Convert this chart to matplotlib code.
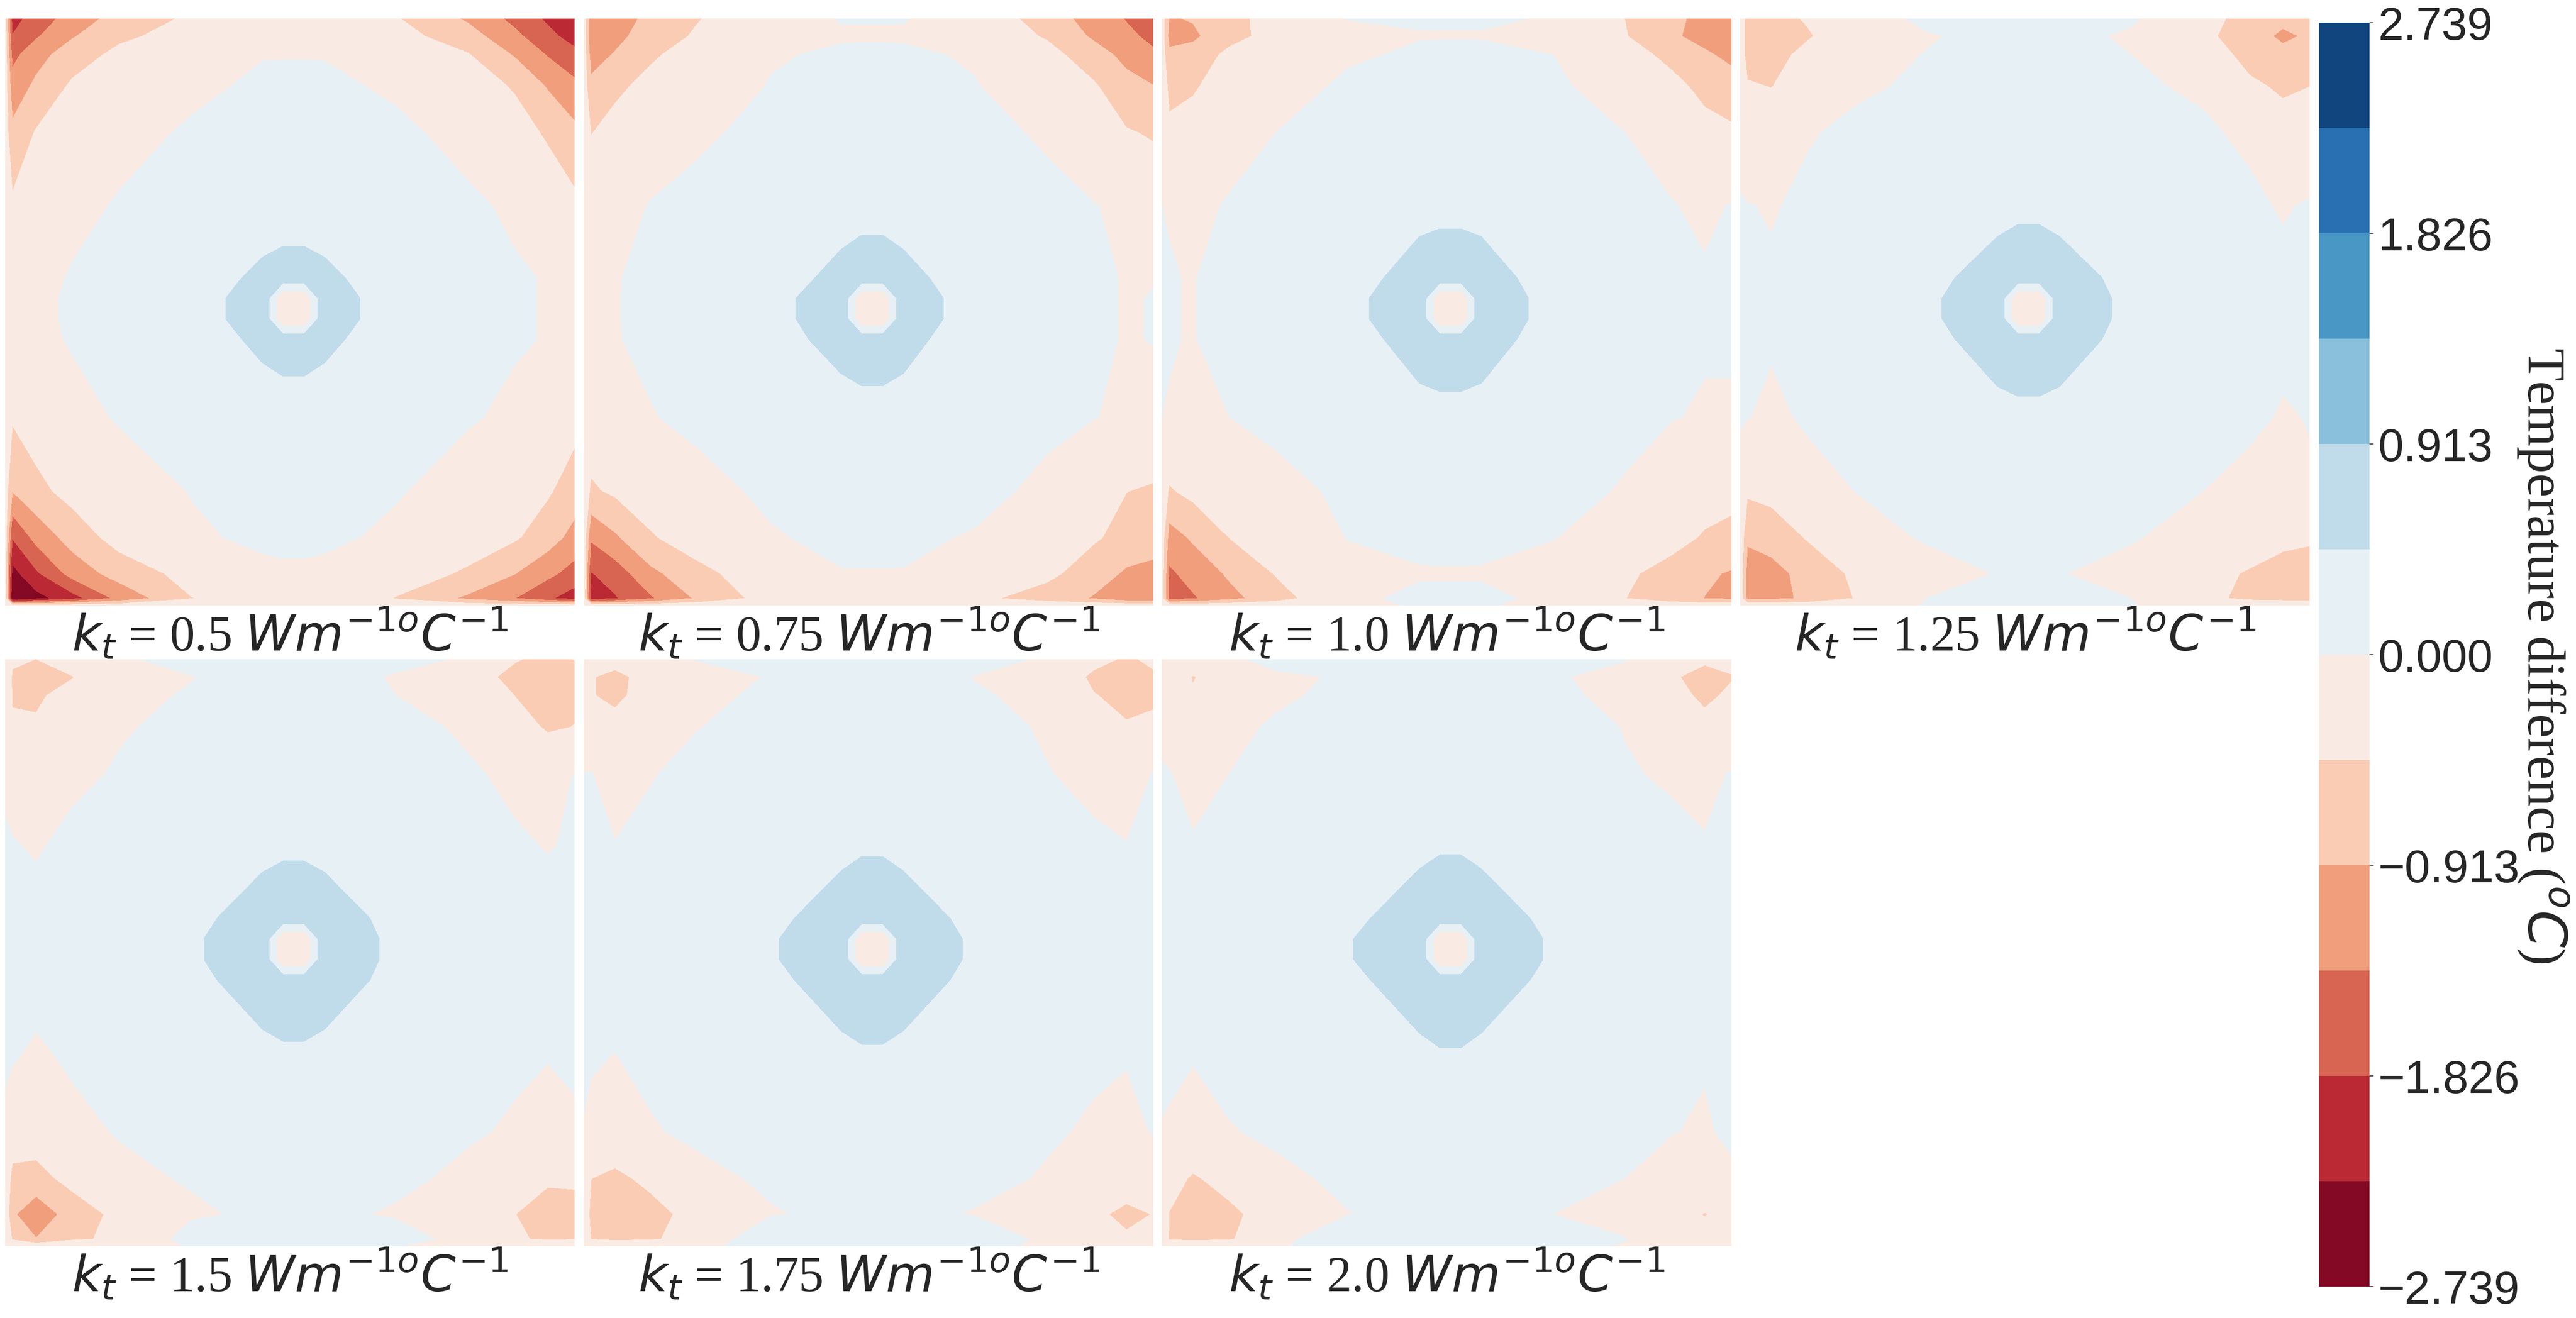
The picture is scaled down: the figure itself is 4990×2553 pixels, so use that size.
import matplotlib
matplotlib.use("Agg")
import matplotlib.pyplot as plt
import numpy as np

W, H = 4990, 2553

plt.rcParams["font.family"] = ["Liberation Serif", "DejaVu Sans"]
plt.rcParams["mathtext.fontset"] = "dejavusans"

INK = "#262626"

# node positions inside a panel (left to right, top to bottom)
x_nodes = [0, 14, 60, 130, 220, 360, 498, 538, 578, 618, 756, 896, 986, 1050, 1102]
y_nodes = [0, 34, 70, 131, 221, 361, 501, 541, 581, 621, 771, 914, 1004, 1074, 1122, 1136]

# temperature difference, in 1/100 of a degree
kt_050 = [
    [-30, -198, -164, -116, -75, -38, -22, -20, -20, -22, -42, -98, -150, -190, -220],
    [-20, -181, -142, -95, -55, -26, -13, -10, -10, -13, -28, -72, -125, -170, -200],
    [-20, -150, -108, -68, -34, -13, -1, -1, -1, -1, -12, -43, -95, -140, -170],
    [-20, -118, -82, -38, -20, -5, 4, 5, 5, 4, -3, -22, -50, -95, -125],
    [-20, -80, -42, -22, -8, 3, 6, 8, 8, 6, 4, -6, -25, -52, -80],
    [-20, -38, -20, -7, 2, 5, 4, 3, 3, 4, 5, 3, -3, -15, -35],
    [-20, -20, -8, 2, 4, 5, 62, 78, 78, 62, 5, 4, 2, -1, -17],
    [-20, -17, -5, 3, 4, 4, 90, -44, -44, 88, 3, 3, 2, -1, -15],
    [-20, -17, -5, 3, 4, 4, 90, -44, -44, 88, 3, 3, 2, -1, -15],
    [-20, -20, -6, 2, 4, 5, 62, 78, 78, 62, 5, 4, 2, -1, -17],
    [-20, -40, -22, -8, 2, 5, 8, 10, 10, 8, 6, 2, -4, -10, -30],
    [-20, -90, -58, -30, -13, 1, 7, 9, 9, 7, 2, -10, -30, -40, -68],
    [-20, -180, -122, -72, -28, -4, 5, 7, 7, 5, -5, -30, -40, -70, -107],
    [-20, -245, -190, -120, -72, -30, -6, -5, -5, -6, -30, -50, -90, -125, -155],
    [-20, -270, -245, -200, -125, -47, -20, -18, -18, -20, -47, -100, -136, -175, -205],
    [-20, -20, -20, -20, -20, -20, -20, -15, -15, -20, -20, -20, -20, -20, -20],
]
kt_075 = [
    [-20, -130, -115, -78, -48, -10, 1, 1, 1, 1, -10, -68, -110, -140, -162],
    [-20, -130, -105, -68, -40, -13, -2, -2, -2, -2, -12, -50, -98, -125, -150],
    [-20, -110, -88, -52, -25, -2, 3, 4, 4, 3, -2, -30, -70, -105, -128],
    [-20, -80, -55, -32, -13, 1, 5, 6, 6, 5, 1, -12, -40, -75, -90],
    [-20, -47, -30, -12, -3, 5, 10, 12, 12, 10, 7, -3, -20, -42, -50],
    [-20, -13, -7, 1, 5, 12, 20, 23, 23, 20, 12, 6, 1, -5, -15],
    [-20, -8, -1, 4, 8, 17, 62, 78, 78, 62, 17, 8, 6, -2, -1],
    [-20, -6, -1, 5, 10, 20, 90, -44, -44, 88, 13, 10, 6, -2, 1],
    [-20, -6, -1, 5, 10, 20, 90, -44, -44, 88, 13, 10, 6, -2, 1],
    [-20, -8, -1, 4, 8, 26, 62, 78, 78, 62, 17, 8, 6, -2, 1],
    [-20, -17, -10, -1, 5, 12, 25, 24, 24, 25, 12, 6, 1, -5, -10],
    [-20, -52, -38, -20, -7, 4, 12, 14, 14, 12, 8, -6, -30, -45, -50],
    [-20, -130, -98, -50, -20, -2, 5, 6, 6, 5, -2, -18, -40, -60, -78],
    [-20, -185, -162, -102, -60, -15, -1, -1, -1, -1, -12, -35, -68, -98, -100],
    [-20, -210, -187, -142, -85, -25, -15, -13, -13, -15, -35, -65, -95, -125, -130],
    [-15, -15, -15, -15, -15, -15, -15, -15, -15, -15, -15, -15, -15, -15, -15],
]
kt_100 = [
    [-20, -95, -88, -58, -30, 1, 2, 2, 2, 2, -1, -46, -80, -105, -120],
    [-20, -105, -100, -60, -30, -10, -1, -1, -1, -1, -10, -43, -85, -105, -125],
    [-20, -82, -72, -35, -13, -3, 3, 4, 4, 4, 0, -20, -62, -85, -102],
    [-20, -55, -52, -17, -10, 4, 5, 5, 5, 5, 3, -8, -28, -62, -72],
    [-20, -38, -22, -10, 0, 4, 5, 6, 6, 5, 5, 0, -10, -25, -38],
    [0, -1, -6, 2, 4, 20, 30, 30, 30, 30, 20, 4, 1, -4, 1],
    [2, 1, -1, 8, 5, 25, 66, 78, 78, 66, 25, 5, 4, 2, 1],
    [2, 1, -1, 8, 5, 27, 90, -44, -44, 88, 24, 5, 4, 2, 1],
    [2, 1, -1, 8, 5, 27, 90, -44, -44, 88, 24, 5, 4, 2, 1],
    [2, 1, -1, 8, 5, 25, 66, 78, 78, 66, 25, 5, 4, 2, 1],
    [0, -1, -7, 0, 4, 20, 30, 30, 30, 30, 20, 3, 1, -2, -1],
    [-20, -50, -33, -18, -5, 3, 4, 5, 5, 4, 4, -1, -15, -25, -30],
    [-20, -110, -85, -45, -20, 1, 3, 4, 4, 3, 1, -12, -30, -50, -60],
    [-20, -145, -120, -85, -43, -10, -1, -1, -1, -1, -10, -38, -62, -85, -95],
    [-20, -155, -142, -105, -65, -2, 2, 2, 2, 2, -2, -45, -73, -92, -100],
    [-10, -15, -15, -15, -15, -3, 1, 1, 1, 1, -3, -15, -15, -15, -15],
]
kt_125 = [
    [-10, -65, -60, -42, -20, 8, 10, 10, 10, 10, 5, -32, -60, -80, -75],
    [-10, -72, -62, -50, -17, -3, 10, 12, 12, 10, -5, -35, -70, -100, -85],
    [-10, -68, -62, -33, -12, 1, 12, 13, 13, 12, 0, -20, -60, -78, -72],
    [-10, -40, -47, -20, -4, 4, 13, 14, 14, 13, 3, -3, -38, -52, -46],
    [-5, -25, -15, -2, 5, 10, 14, 16, 16, 14, 10, 3, -4, -28, -20],
    [1, 1, -2, 5, 10, 22, 27, 34, 34, 27, 22, 10, 4, -2, 2],
    [1, 2, 3, 8, 15, 29, 70, 78, 78, 70, 29, 15, 10, 5, 3],
    [2, 3, 4, 10, 18, 33, 90, -44, -44, 88, 30, 18, 12, 6, 3],
    [2, 3, 4, 10, 18, 33, 90, -44, -44, 88, 30, 18, 12, 6, 3],
    [1, 2, 3, 8, 15, 29, 70, 78, 78, 70, 29, 15, 10, 5, 3],
    [1, 1, -6, 4, 13, 22, 30, 34, 34, 30, 22, 10, 5, -2, 1],
    [-5, -38, -30, -12, 0, 10, 12, 13, 13, 12, 10, 0, -8, -12, -3],
    [-10, -85, -75, -42, -13, 3, 9, 10, 10, 9, 2, -10, -20, -35, -38],
    [-10, -110, -105, -78, -38, -12, 1, 1, 1, 1, -8, -30, -50, -62, -70],
    [-10, -105, -102, -85, -45, 0, 4, 5, 5, 4, 0, -35, -55, -60, -65],
    [-5, -10, -10, -10, -10, 1, 2, 2, 2, 2, 1, -10, -10, -10, -10],
]
kt_150 = [
    [-5, -40, -46, -20, -5, 12, 15, 15, 15, 15, 10, -4, -43, -55, -45],
    [-5, -50, -52, -47, -12, -1, 14, 16, 16, 14, -3, -30, -55, -60, -55],
    [-5, -48, -50, -35, -6, 2, 16, 18, 18, 16, 0, -12, -46, -58, -52],
    [-5, -42, -42, -20, -3, 8, 18, 20, 20, 18, 8, -4, -30, -50, -45],
    [-3, -12, -18, -7, 3, 15, 20, 22, 22, 20, 15, 3, -5, -15, 1],
    [2, 2, -3, 8, 20, 22, 26, 37, 37, 26, 22, 12, 3, -1, 2],
    [5, 8, 10, 18, 28, 26, 80, 78, 78, 80, 26, 20, 12, 7, 5],
    [5, 10, 13, 20, 30, 36, 90, -44, -44, 88, 33, 22, 14, 8, 5],
    [5, 10, 13, 20, 30, 36, 90, -44, -44, 88, 33, 22, 14, 8, 5],
    [5, 8, 10, 18, 28, 26, 80, 78, 78, 80, 26, 20, 12, 7, 5],
    [2, 2, -5, 4, 20, 22, 26, 37, 37, 26, 22, 10, 4, 1, 3],
    [-3, -15, -20, -8, 2, 15, 20, 20, 20, 20, 18, 3, -3, -12, -3],
    [-5, -60, -62, -30, -8, 3, 16, 18, 18, 16, 6, -6, -22, -40, -38],
    [-5, -85, -120, -72, -33, -5, 6, 9, 9, 6, -3, -25, -45, -62, -62],
    [-5, -50, -90, -52, -38, 15, 20, 20, 20, 20, 12, -10, -42, -50, -48],
    [-5, -8, -8, -8, -8, 1, 3, 3, 3, 3, 1, -8, -8, -8, -8],
]
kt_175 = [
    [-2, -20, -30, -15, 1, 18, 20, 20, 20, 20, 15, -5, -35, -50, -40],
    [-5, -43, -56, -30, -8, 1, 20, 22, 22, 20, -1, -15, -52, -58, -50],
    [-5, -43, -56, -25, -8, 6, 22, 24, 24, 22, 3, -7, -44, -55, -52],
    [-5, -18, -30, -12, -1, 12, 25, 26, 26, 25, 10, -3, -15, -43, -38],
    [0, 1, -12, -2, 10, 22, 25, 27, 27, 25, 20, 1, -6, -15, 1],
    [3, 4, 1, 10, 28, 24, 25, 40, 40, 25, 24, 16, 4, 1, 4],
    [6, 10, 15, 22, 32, 25, 85, 78, 78, 85, 25, 25, 16, 10, 6],
    [7, 12, 18, 25, 35, 39, 90, -44, -44, 88, 37, 28, 18, 12, 7],
    [7, 12, 18, 25, 35, 39, 90, -44, -44, 88, 37, 28, 18, 12, 7],
    [6, 10, 15, 22, 32, 25, 85, 78, 78, 85, 25, 25, 16, 10, 6],
    [3, 3, -1, 8, 25, 24, 25, 39, 39, 25, 24, 12, 5, 2, 4],
    [-1, -8, -12, -3, 7, 18, 22, 24, 24, 22, 20, 4, -4, -10, 2],
    [-5, -45, -55, -35, -10, 6, 18, 20, 20, 18, 10, -3, -20, -30, -18],
    [-5, -60, -82, -60, -30, -3, 8, 10, 10, 8, -2, -20, -40, -52, -45],
    [-5, -47, -55, -50, -30, 30, 30, 30, 30, 30, 30, -10, -38, -42, -35],
    [-3, -5, -5, -5, -3, 5, 8, 8, 8, 8, 5, -3, -5, -5, -5],
]
kt_200 = [
    [-2, -10, -20, -6, 10, 25, 25, 25, 25, 25, 20, 1, -20, -42, -38],
    [-3, -15, -48, -20, -5, 3, 25, 27, 27, 25, 2, -6, -43, -53, -47],
    [-3, -20, -42, -15, -4, 6, 27, 28, 28, 27, 4, -5, -38, -50, -42],
    [-3, -10, -20, -6, 3, 15, 28, 29, 29, 28, 12, -1, -10, -39, -28],
    [1, 1, -8, 0, 10, 25, 30, 31, 31, 30, 22, 2, -3, -8, 2],
    [5, 7, 2, 13, 30, 26, 26, 41, 41, 26, 26, 20, 6, 2, 5],
    [8, 12, 18, 26, 36, 26, 88, 78, 78, 88, 26, 28, 18, 12, 8],
    [9, 14, 20, 28, 38, 42, 90, -44, -44, 88, 39, 30, 20, 14, 9],
    [9, 14, 20, 28, 38, 42, 90, -44, -44, 88, 39, 30, 20, 14, 9],
    [8, 12, 18, 26, 36, 26, 88, 78, 78, 88, 26, 28, 18, 12, 8],
    [4, 5, 1, 10, 27, 26, 26, 41, 41, 26, 26, 15, 6, 2, 5],
    [-1, -3, -8, -2, 6, 20, 25, 26, 26, 25, 22, 5, 1, -3, 5],
    [-3, -30, -50, -30, -8, 7, 20, 22, 22, 20, 12, 0, -12, -20, -5],
    [-3, -47, -68, -55, -25, -1, 12, 14, 14, 12, 0, -10, -30, -47, -35],
    [-3, -50, -55, -50, -12, 28, 35, 35, 35, 35, 30, 1, -22, -35, -30],
    [-3, -5, -5, -5, -2, 8, 10, 10, 10, 10, 8, -2, -5, -5, -5],
]

panel_values = [kt_050, kt_075, kt_100, kt_125, kt_150, kt_175, kt_200]
panel_kt = ["0.5", "0.75", "1.0", "1.25", "1.5", "1.75", "2.0"]

LEVEL_MAX = 2.739
levels = np.linspace(-LEVEL_MAX, LEVEL_MAX, 13)
cbar_ticks = [-2.739, -1.826, -0.913, 0.0, 0.913, 1.826, 2.739]
cbar_labels = ["\u22122.739", "\u22121.826", "\u22120.913", "0.000", "0.913", "1.826", "2.739"]

col_left = [10, 1131, 2251, 3371]
row_top = [36, 1277]
PANEL_W = 1103
PANEL_H = 1137


def px_axes(fig, left, top, width, height):
    return fig.add_axes([left / W, 1 - (top + height) / H, width / W, height / H])


fig = plt.figure(figsize=(W / 100, H / 100), dpi=100, facecolor="white")

cs = None
for i, vals in enumerate(panel_values):
    col = i % 4
    row = i // 4
    ax = px_axes(fig, col_left[col], row_top[row], PANEL_W, PANEL_H)
    cs = ax.contourf(x_nodes, y_nodes, np.array(vals) / 100.0, levels=levels, cmap="RdBu")
    ax.set_xlim(x_nodes[0], x_nodes[-1])
    ax.set_ylim(y_nodes[-1], y_nodes[0])
    ax.axis("off")
    label = r"$k_t$ = " + panel_kt[i] + r" $Wm^{-1o}C^{-1}$"
    fig.text((col_left[col] + 552) / W, 1 - (row_top[row] + PANEL_H + 88) / H, label,
             ha="center", va="baseline", fontsize=70, color=INK)

cax = px_axes(fig, 4492, 44, 98, 2448)
cbar = fig.colorbar(cs, cax=cax, ticks=cbar_ticks)
cbar.ax.set_yticklabels(cbar_labels)
cbar.outline.set_visible(False)
cbar.ax.tick_params(length=6, width=1.2, color=INK, pad=6, labelsize=64, labelcolor=INK)
for t in cbar.ax.get_yticklabels():
    t.set_family("Liberation Sans")

fig.text(4926 / W, 1 - 1270 / H, r"Temperature difference ($^oC$)", rotation=270,
         ha="center", va="center", fontsize=75, color=INK)

fig.savefig("out.png", dpi=100)
